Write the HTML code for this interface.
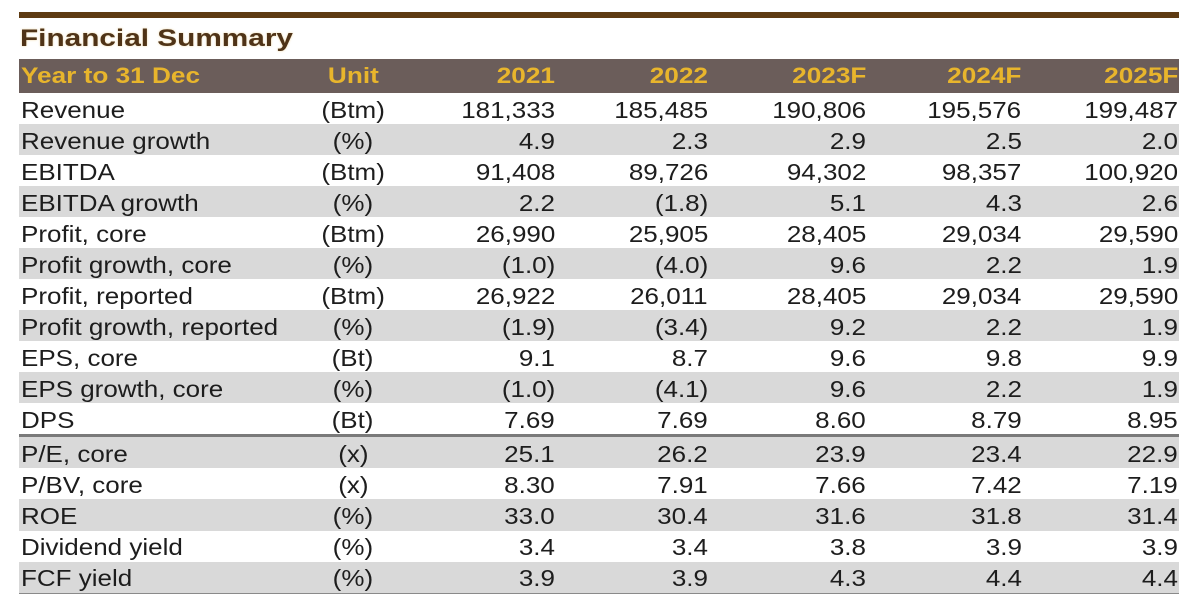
<!DOCTYPE html>
<html><head><meta charset="utf-8">
<style>
html,body{margin:0;padding:0;background:#fff;}
#w{position:relative;width:1200px;height:610px;overflow:hidden;background:#fff;}
.bar{position:absolute;left:19px;top:12px;width:1160px;height:6px;background:#5e3b12;}
.title{position:absolute;left:20px;top:23.5px;font:bold 24.5px/30px "Liberation Sans",Arial,sans-serif;color:#4f3317;white-space:nowrap;text-shadow:0 0 2px rgba(220,170,60,0.45);}
.title span{display:inline-block;transform:scaleX(1.215);transform-origin:left;}
.hd{position:absolute;left:19px;top:59px;width:1160px;height:34px;background:#6b5d5a;font:bold 22px "Liberation Sans",Arial,sans-serif;color:#e8b52c;}
.hd>div{position:absolute;top:0;line-height:34px;white-space:nowrap;}
.hd span{display:inline-block;transform:scaleX(1.19);}
.r{position:absolute;left:19px;width:1160px;height:31px;font:23px "Liberation Sans",Arial,sans-serif;color:#1d1d1d;}
.r.g{background:#d9d9d9;}
.r>div{position:absolute;top:1.5px;line-height:31px;white-space:nowrap;}
.r span{display:inline-block;transform:scaleX(1.13);}
.l{left:2px}.l span{transform-origin:left center;}
.u{left:234px;width:200px;text-align:center}.u span{transform-origin:center;}
.c1{right:624px}.c2{right:471px}.c3{right:313px}.c4{right:157.5px}.c5{right:1px}
.c1 span,.c2 span,.c3 span,.c4 span,.c5 span{transform-origin:right center;}
.sep{position:absolute;left:19px;top:434px;width:1160px;height:3px;background:#7a7a7a;}
.bot{position:absolute;left:19px;top:592.5px;width:1160px;height:1.5px;background:#8a8a8a;}
</style></head><body><div id="w">
<div class="bar"></div>
<div class="title"><span>Financial Summary</span></div>
<div class="hd">
<div class="l"><span>Year to 31 Dec</span></div>
<div class="u"><span>Unit</span></div>
<div class="c1"><span>2021</span></div>
<div class="c2"><span>2022</span></div>
<div class="c3"><span>2023F</span></div>
<div class="c4"><span>2024F</span></div>
<div class="c5"><span>2025F</span></div>
</div>

<div class="r" style="top:93px"><div class="l"><span>Revenue</span></div><div class="u"><span>(Btm)</span></div><div class="c1"><span>181,333</span></div><div class="c2"><span>185,485</span></div><div class="c3"><span>190,806</span></div><div class="c4"><span>195,576</span></div><div class="c5"><span>199,487</span></div></div>
<div class="r g" style="top:124px"><div class="l"><span>Revenue growth</span></div><div class="u"><span>(%)</span></div><div class="c1"><span>4.9</span></div><div class="c2"><span>2.3</span></div><div class="c3"><span>2.9</span></div><div class="c4"><span>2.5</span></div><div class="c5"><span>2.0</span></div></div>
<div class="r" style="top:155px"><div class="l"><span>EBITDA</span></div><div class="u"><span>(Btm)</span></div><div class="c1"><span>91,408</span></div><div class="c2"><span>89,726</span></div><div class="c3"><span>94,302</span></div><div class="c4"><span>98,357</span></div><div class="c5"><span>100,920</span></div></div>
<div class="r g" style="top:186px"><div class="l"><span>EBITDA growth</span></div><div class="u"><span>(%)</span></div><div class="c1"><span>2.2</span></div><div class="c2"><span>(1.8)</span></div><div class="c3"><span>5.1</span></div><div class="c4"><span>4.3</span></div><div class="c5"><span>2.6</span></div></div>
<div class="r" style="top:217px"><div class="l"><span>Profit, core</span></div><div class="u"><span>(Btm)</span></div><div class="c1"><span>26,990</span></div><div class="c2"><span>25,905</span></div><div class="c3"><span>28,405</span></div><div class="c4"><span>29,034</span></div><div class="c5"><span>29,590</span></div></div>
<div class="r g" style="top:248px"><div class="l"><span>Profit growth, core</span></div><div class="u"><span>(%)</span></div><div class="c1"><span>(1.0)</span></div><div class="c2"><span>(4.0)</span></div><div class="c3"><span>9.6</span></div><div class="c4"><span>2.2</span></div><div class="c5"><span>1.9</span></div></div>
<div class="r" style="top:279px"><div class="l"><span>Profit, reported</span></div><div class="u"><span>(Btm)</span></div><div class="c1"><span>26,922</span></div><div class="c2"><span>26,011</span></div><div class="c3"><span>28,405</span></div><div class="c4"><span>29,034</span></div><div class="c5"><span>29,590</span></div></div>
<div class="r g" style="top:310px"><div class="l"><span>Profit growth, reported</span></div><div class="u"><span>(%)</span></div><div class="c1"><span>(1.9)</span></div><div class="c2"><span>(3.4)</span></div><div class="c3"><span>9.2</span></div><div class="c4"><span>2.2</span></div><div class="c5"><span>1.9</span></div></div>
<div class="r" style="top:341px"><div class="l"><span>EPS, core</span></div><div class="u"><span>(Bt)</span></div><div class="c1"><span>9.1</span></div><div class="c2"><span>8.7</span></div><div class="c3"><span>9.6</span></div><div class="c4"><span>9.8</span></div><div class="c5"><span>9.9</span></div></div>
<div class="r g" style="top:372px"><div class="l"><span>EPS growth, core</span></div><div class="u"><span>(%)</span></div><div class="c1"><span>(1.0)</span></div><div class="c2"><span>(4.1)</span></div><div class="c3"><span>9.6</span></div><div class="c4"><span>2.2</span></div><div class="c5"><span>1.9</span></div></div>
<div class="r" style="top:403px"><div class="l"><span>DPS</span></div><div class="u"><span>(Bt)</span></div><div class="c1"><span>7.69</span></div><div class="c2"><span>7.69</span></div><div class="c3"><span>8.60</span></div><div class="c4"><span>8.79</span></div><div class="c5"><span>8.95</span></div></div>
<div class="sep"></div>
<div class="r g" style="top:437px;height:31.2px"><div class="l"><span>P/E, core</span></div><div class="u"><span>(x)</span></div><div class="c1"><span>25.1</span></div><div class="c2"><span>26.2</span></div><div class="c3"><span>23.9</span></div><div class="c4"><span>23.4</span></div><div class="c5"><span>22.9</span></div></div>
<div class="r" style="top:468.2px;height:31.2px"><div class="l"><span>P/BV, core</span></div><div class="u"><span>(x)</span></div><div class="c1"><span>8.30</span></div><div class="c2"><span>7.91</span></div><div class="c3"><span>7.66</span></div><div class="c4"><span>7.42</span></div><div class="c5"><span>7.19</span></div></div>
<div class="r g" style="top:499.4px;height:31.2px"><div class="l"><span>ROE</span></div><div class="u"><span>(%)</span></div><div class="c1"><span>33.0</span></div><div class="c2"><span>30.4</span></div><div class="c3"><span>31.6</span></div><div class="c4"><span>31.8</span></div><div class="c5"><span>31.4</span></div></div>
<div class="r" style="top:530.6px;height:31.2px"><div class="l"><span>Dividend yield</span></div><div class="u"><span>(%)</span></div><div class="c1"><span>3.4</span></div><div class="c2"><span>3.4</span></div><div class="c3"><span>3.8</span></div><div class="c4"><span>3.9</span></div><div class="c5"><span>3.9</span></div></div>
<div class="r g" style="top:561.8px;height:31.2px"><div class="l"><span>FCF yield</span></div><div class="u"><span>(%)</span></div><div class="c1"><span>3.9</span></div><div class="c2"><span>3.9</span></div><div class="c3"><span>4.3</span></div><div class="c4"><span>4.4</span></div><div class="c5"><span>4.4</span></div></div>
<div class="bot"></div>
</div></body></html>
